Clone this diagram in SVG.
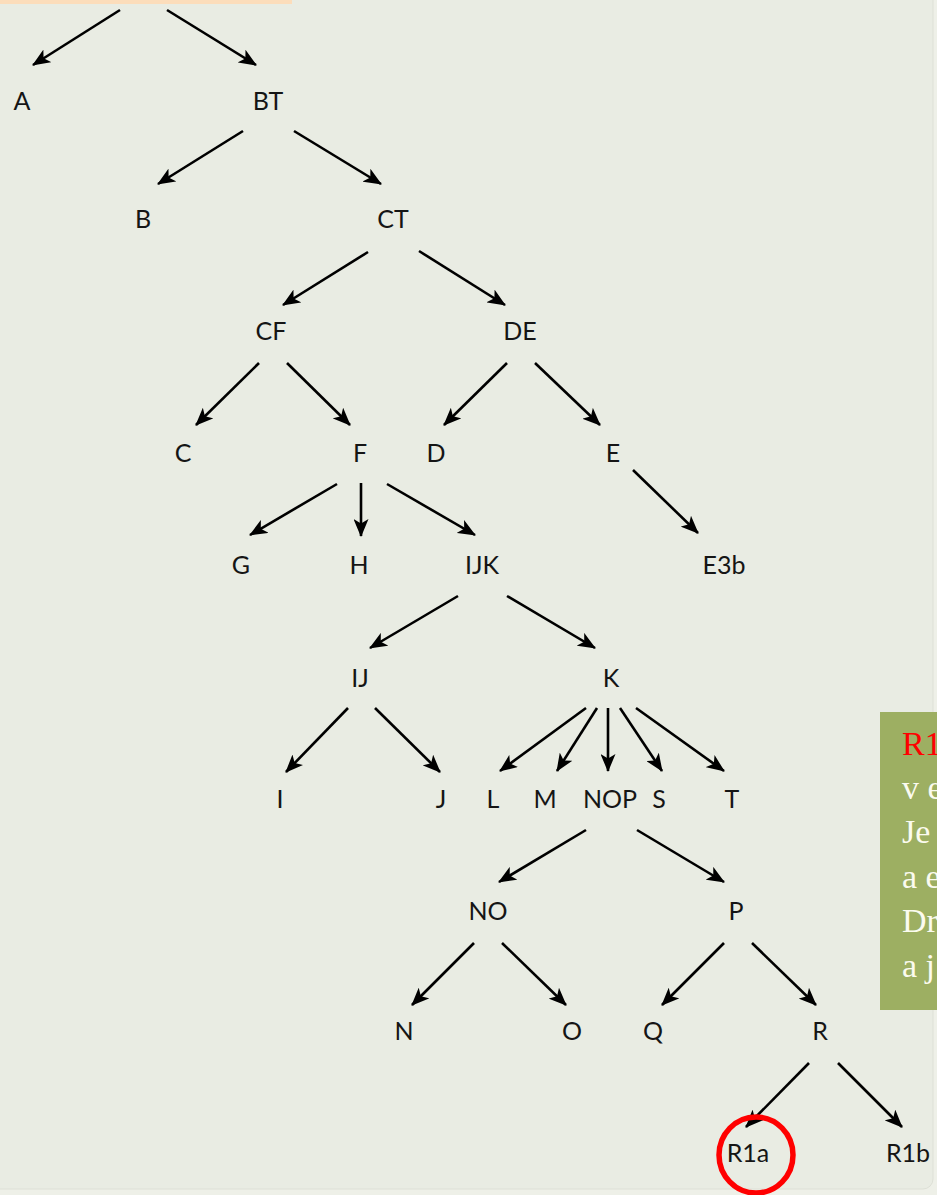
<svg xmlns="http://www.w3.org/2000/svg" width="937" height="1195" viewBox="0 0 937 1195">
<defs>
<marker id="ah" viewBox="0 0 18 15" refX="17" refY="7.5" markerWidth="18" markerHeight="15" markerUnits="userSpaceOnUse" orient="auto">
<path d="M0,0 L18,7.5 L0,15 L4.5,7.5 Z" fill="#000"/>
</marker>
</defs>
<style>
.n{font-family:Lato,"Open Sans","Liberation Sans",sans-serif;font-size:25px;fill:#151515;text-anchor:middle;dominant-baseline:central}
.e{stroke:#000;stroke-width:2.6;fill:none;marker-end:url(#ah)}
.g{font-family:"Liberation Serif","DejaVu Serif",serif;font-size:34px;fill:#FBFBEF}
</style>
<rect x="0" y="0" width="937" height="1195" fill="#EEF0E8"/>
<rect x="-10" y="-10" width="943" height="1199" rx="10" fill="#E9ECE3" stroke="#DDE0D6" stroke-width="1"/>
<rect x="0" y="0" width="292" height="4" fill="#FCDDBB"/>
<g id="connectors">
<line class="e" x1="120" y1="10" x2="33" y2="65"/>
<line class="e" x1="167" y1="10" x2="256" y2="65"/>
<line class="e" x1="243" y1="131" x2="158" y2="184"/>
<line class="e" x1="294" y1="131" x2="381" y2="184"/>
<line class="e" x1="368" y1="252" x2="283" y2="305"/>
<line class="e" x1="419" y1="251" x2="505" y2="305"/>
<line class="e" x1="259" y1="363" x2="196" y2="425"/>
<line class="e" x1="287" y1="363" x2="350" y2="425"/>
<line class="e" x1="507" y1="363" x2="444" y2="425"/>
<line class="e" x1="535" y1="363" x2="600" y2="425"/>
<line class="e" x1="337" y1="484" x2="250" y2="535"/>
<line class="e" x1="361" y1="483" x2="361" y2="536"/>
<line class="e" x1="387" y1="484" x2="475" y2="535"/>
<line class="e" x1="633" y1="470" x2="698" y2="533"/>
<line class="e" x1="458" y1="596" x2="370" y2="648"/>
<line class="e" x1="507" y1="596" x2="595" y2="648"/>
<line class="e" x1="348" y1="708" x2="286" y2="772"/>
<line class="e" x1="375" y1="708" x2="440" y2="772"/>
<line class="e" x1="586" y1="708" x2="500" y2="771"/>
<line class="e" x1="597" y1="708" x2="557" y2="771"/>
<line class="e" x1="608" y1="708" x2="608" y2="771"/>
<line class="e" x1="620" y1="708" x2="662" y2="771"/>
<line class="e" x1="636" y1="708" x2="724" y2="771"/>
<line class="e" x1="586" y1="830" x2="499" y2="882"/>
<line class="e" x1="637" y1="830" x2="724" y2="882"/>
<line class="e" x1="474" y1="943" x2="412" y2="1005"/>
<line class="e" x1="502" y1="943" x2="566" y2="1005"/>
<line class="e" x1="724" y1="943" x2="662" y2="1005"/>
<line class="e" x1="752" y1="943" x2="816" y2="1005"/>
<line class="e" x1="809" y1="1063" x2="746" y2="1127"/>
<line class="e" x1="838" y1="1063" x2="902" y2="1127"/>
</g>
<g id="A"><text class="n" x="22" y="100">A</text></g>
<g id="BT"><text class="n" x="268" y="100">BT</text></g>
<g id="B"><text class="n" x="143" y="218">B</text></g>
<g id="CT"><text class="n" x="393" y="218">CT</text></g>
<g id="CF"><text class="n" x="271" y="330">CF</text></g>
<g id="DE"><text class="n" x="520" y="330">DE</text></g>
<g id="C"><text class="n" x="183" y="452">C</text></g>
<g id="F"><text class="n" x="360" y="452">F</text></g>
<g id="D"><text class="n" x="436" y="452">D</text></g>
<g id="E"><text class="n" x="613" y="452">E</text></g>
<g id="G"><text class="n" x="241" y="564">G</text></g>
<g id="H"><text class="n" x="359" y="564">H</text></g>
<g id="IJK"><text class="n" x="482" y="564">IJK</text></g>
<g id="E3b"><text class="n" x="724" y="564">E3b</text></g>
<g id="IJ"><text class="n" x="360" y="677">IJ</text></g>
<g id="K"><text class="n" x="611" y="677">K</text></g>
<g id="I"><text class="n" x="280" y="798">I</text></g>
<g id="J"><text class="n" x="441" y="798">J</text></g>
<g id="L"><text class="n" x="493" y="798">L</text></g>
<g id="M"><text class="n" x="545" y="798">M</text></g>
<g id="NOP"><text class="n" x="610" y="798">NOP</text></g>
<g id="S"><text class="n" x="659" y="798">S</text></g>
<g id="T"><text class="n" x="732" y="798">T</text></g>
<g id="NO"><text class="n" x="488" y="910">NO</text></g>
<g id="P"><text class="n" x="736" y="910">P</text></g>
<g id="N"><text class="n" x="404" y="1030">N</text></g>
<g id="O"><text class="n" x="572" y="1030">O</text></g>
<g id="Q"><text class="n" x="653" y="1030">Q</text></g>
<g id="R"><text class="n" x="820" y="1030">R</text></g>
<g id="R1a"><text class="n" x="748" y="1152">R1a</text>
<ellipse cx="756" cy="1155" rx="37" ry="38" fill="none" stroke="#F00" stroke-width="5.5"/></g>
<g id="R1b"><text class="n" x="908" y="1152">R1b</text></g>
<g id="note">
<rect x="880" y="712" width="60" height="298" fill="#9DAF62"/>
<text class="g" x="902" y="755" style="fill:#F00">R1a</text>
<text class="g" x="902" y="799">v e</text>
<text class="g" x="902" y="843">Je</text>
<text class="g" x="902" y="888">a e</text>
<text class="g" x="902" y="932">Dr</text>
<text class="g" x="902" y="977">a j</text>
</g>
</svg>
